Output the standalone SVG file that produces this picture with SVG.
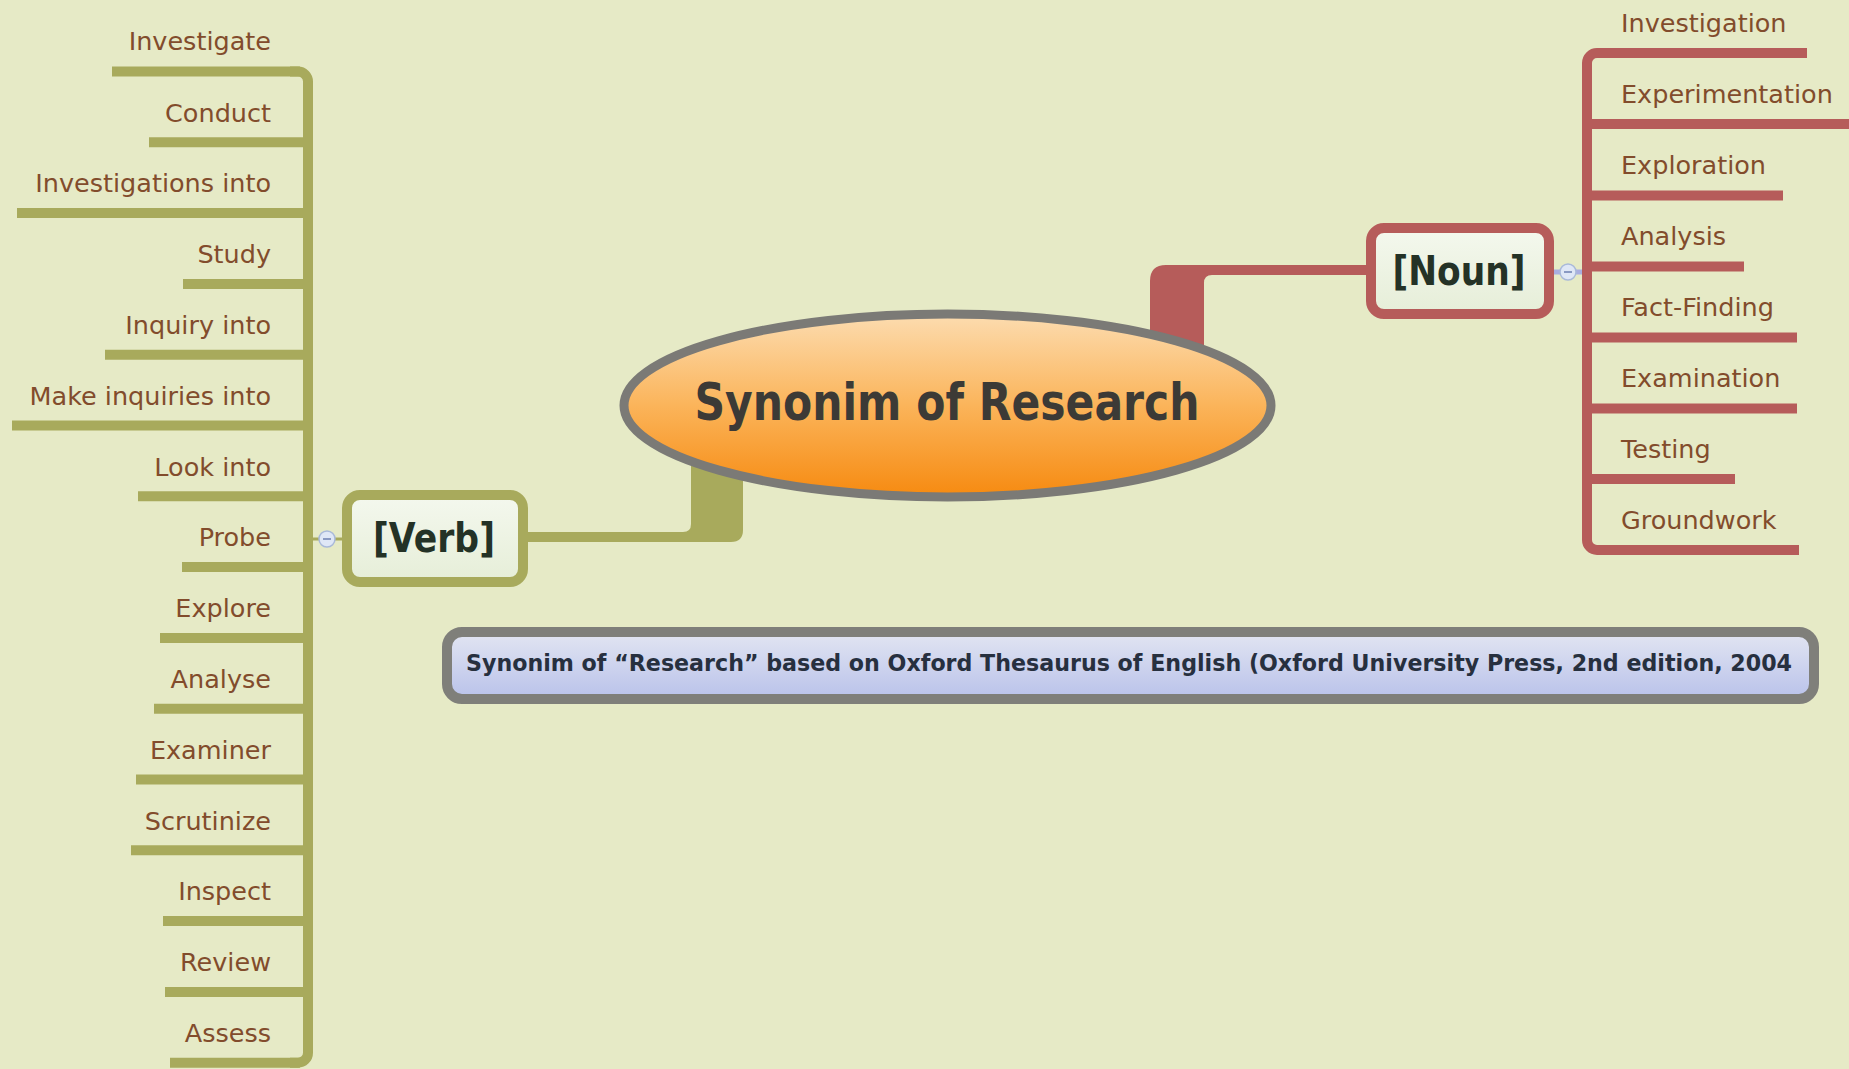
<svg xmlns="http://www.w3.org/2000/svg" width="1849" height="1069" viewBox="0 0 1849 1069">
<defs>
<style>
.lbl{font-family:"DejaVu Sans","Liberation Sans",sans-serif;font-size:25.5px;fill:#824c2c}
.l{text-anchor:end}
.olv{stroke:#a8aa5c;stroke-width:10;fill:none}
.red{stroke:#b65c5a;stroke-width:10;fill:none}
.bold{font-family:"DejaVu Sans","Liberation Sans",sans-serif;font-weight:bold;text-anchor:middle}
</style>
<linearGradient id="gOr" x1="0" y1="0" x2="0" y2="1">
<stop offset="0" stop-color="#fcdcb0"/>
<stop offset="0.5" stop-color="#fbb45a"/>
<stop offset="1" stop-color="#f68a10"/>
</linearGradient>
<linearGradient id="gBox" x1="0" y1="0" x2="0" y2="1">
<stop offset="0" stop-color="#f4f8ee"/>
<stop offset="1" stop-color="#e6eed8"/>
</linearGradient>
<linearGradient id="gNote" x1="0" y1="0" x2="0" y2="1">
<stop offset="0" stop-color="#e2e5f2"/>
<stop offset="1" stop-color="#b9c2ea"/>
</linearGradient>
</defs>
<rect x="0" y="0" width="1849" height="1069" fill="#e6eac6"/>

<g id="connectors">
<!-- central to Verb -->
<path d="M 528 532 H 683 Q 691 532 691 524 V 460 H 743 V 530 Q 743 542 731 542 H 528 Z" fill="#a8aa5c"/>
<!-- central to Noun -->
<path d="M 1150 345 V 281 Q 1150 265 1166 265 H 1371 V 275 H 1212 Q 1204 275 1204 283 V 345 Z" fill="#b65c5a"/>
<!-- left spine -->
<path class="olv" d="M 290 71.5 H 298 A 10 10 0 0 1 308 81.5 V 1052.7 A 10 10 0 0 1 298 1062.7 H 290"/>
<line class="olv" x1="112" y1="71.5" x2="300" y2="71.5"/>
<line class="olv" x1="149" y1="142.3" x2="308" y2="142.3"/>
<line class="olv" x1="17" y1="213.1" x2="308" y2="213.1"/>
<line class="olv" x1="183" y1="283.9" x2="308" y2="283.9"/>
<line class="olv" x1="105" y1="354.7" x2="308" y2="354.7"/>
<line class="olv" x1="12" y1="425.5" x2="308" y2="425.5"/>
<line class="olv" x1="138" y1="496.3" x2="308" y2="496.3"/>
<line class="olv" x1="182" y1="567.1" x2="308" y2="567.1"/>
<line class="olv" x1="160" y1="637.9" x2="308" y2="637.9"/>
<line class="olv" x1="154" y1="708.7" x2="308" y2="708.7"/>
<line class="olv" x1="136" y1="779.5" x2="308" y2="779.5"/>
<line class="olv" x1="131" y1="850.3" x2="308" y2="850.3"/>
<line class="olv" x1="163" y1="921.1" x2="308" y2="921.1"/>
<line class="olv" x1="165" y1="991.9" x2="308" y2="991.9"/>
<line class="olv" x1="170" y1="1062.7" x2="300" y2="1062.7"/>
<line x1="313" y1="539" x2="342" y2="539" stroke="#a8aa5c" stroke-width="3"/>
<!-- right spine -->
<path class="red" d="M 1605 53 H 1597 A 10 10 0 0 0 1587 63 V 540 A 10 10 0 0 0 1597 550 H 1605"/>
<line class="red" x1="1597" y1="53" x2="1807" y2="53"/>
<line class="red" x1="1587" y1="124" x2="1849" y2="124"/>
<line class="red" x1="1587" y1="195.5" x2="1783" y2="195.5"/>
<line class="red" x1="1587" y1="266.5" x2="1744" y2="266.5"/>
<line class="red" x1="1587" y1="337.5" x2="1797" y2="337.5"/>
<line class="red" x1="1587" y1="408.5" x2="1797" y2="408.5"/>
<line class="red" x1="1587" y1="479" x2="1735" y2="479"/>
<line class="red" x1="1597" y1="550" x2="1799" y2="550"/>
<line x1="1554" y1="272" x2="1582" y2="272" stroke="#a9aee0" stroke-width="5"/>
</g>

<g id="central">
<ellipse cx="947.5" cy="405.5" rx="323.5" ry="91.5" fill="url(#gOr)" stroke="#7b7a76" stroke-width="9"/>
<text class="bold" x="947" y="420" font-size="52" fill="#3c3a36" textLength="505" lengthAdjust="spacingAndGlyphs">Synonim of Research</text>
</g>

<g id="verb">
<rect x="347" y="495" width="176" height="87" rx="13" fill="url(#gBox)" stroke="#a8aa5c" stroke-width="10"/>
<text class="bold" x="434" y="552" font-size="41" fill="#243226" textLength="122" lengthAdjust="spacingAndGlyphs">[Verb]</text>
</g>
<g id="verb-toggle">
<circle cx="327" cy="539" r="8" fill="#dfe7f6" stroke="#a9b9d9" stroke-width="1.5"/>
<line x1="323" y1="539" x2="331" y2="539" stroke="#6c7fb0" stroke-width="1.5"/>
</g>

<g id="noun">
<rect x="1371" y="228" width="178" height="86" rx="13" fill="url(#gBox)" stroke="#b65c5a" stroke-width="10"/>
<text class="bold" x="1459" y="285" font-size="41" fill="#243226" textLength="133" lengthAdjust="spacingAndGlyphs">[Noun]</text>
</g>
<g id="noun-toggle">
<circle cx="1568" cy="272" r="8" fill="#dfe7f6" stroke="#a9b9d9" stroke-width="1.5"/>
<line x1="1564" y1="272" x2="1572" y2="272" stroke="#6c7fb0" stroke-width="1.5"/>
</g>

<g id="verbs">
<text class="lbl l" x="271" y="50">Investigate</text>
<text class="lbl l" x="271" y="121.5">Conduct</text>
<text class="lbl l" x="271" y="192">Investigations into</text>
<text class="lbl l" x="271" y="263">Study</text>
<text class="lbl l" x="271" y="333.5">Inquiry into</text>
<text class="lbl l" x="271" y="404.5">Make inquiries into</text>
<text class="lbl l" x="271" y="475.5">Look into</text>
<text class="lbl l" x="271" y="546">Probe</text>
<text class="lbl l" x="271" y="617">Explore</text>
<text class="lbl l" x="271" y="687.5">Analyse</text>
<text class="lbl l" x="271" y="758.5">Examiner</text>
<text class="lbl l" x="271" y="829.5">Scrutinize</text>
<text class="lbl l" x="271" y="900">Inspect</text>
<text class="lbl l" x="271" y="971">Review</text>
<text class="lbl l" x="271" y="1042">Assess</text>
</g>

<g id="nouns">
<text class="lbl" x="1621" y="31.5">Investigation</text>
<text class="lbl" x="1621" y="102.5">Experimentation</text>
<text class="lbl" x="1621" y="174">Exploration</text>
<text class="lbl" x="1621" y="245">Analysis</text>
<text class="lbl" x="1621" y="316">Fact-Finding</text>
<text class="lbl" x="1621" y="387">Examination</text>
<text class="lbl" x="1621" y="457.5">Testing</text>
<text class="lbl" x="1621" y="528.5">Groundwork</text>
</g>

<g id="note">
<rect x="447" y="632" width="1367" height="67" rx="15" fill="url(#gNote)" stroke="#7f7f7a" stroke-width="10"/>
<text class="bold" x="1129" y="671" font-size="23" fill="#27303f" textLength="1326" lengthAdjust="spacingAndGlyphs">Synonim of “Research” based on Oxford Thesaurus of English (Oxford University Press, 2nd edition, 2004</text>
</g>
</svg>
